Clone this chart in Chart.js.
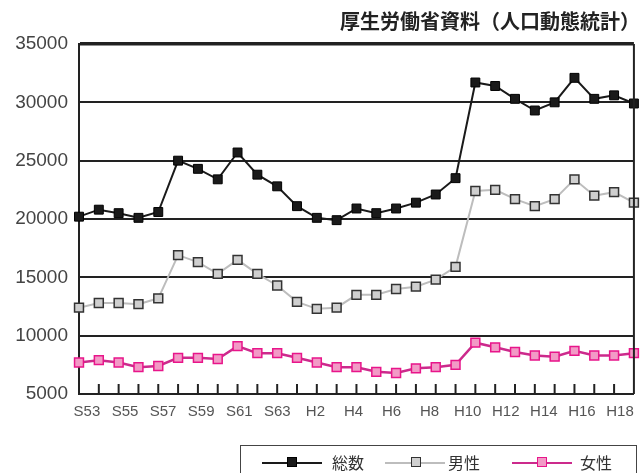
<!DOCTYPE html>
<html lang="ja">
<head>
<meta charset="utf-8">
<title>出生数の推移</title>
<script src="https://cdn.jsdelivr.net/npm/chart.js@4.4.1/dist/chart.umd.min.js"></script>
<style>
  body { margin: 0; background: #fff; }
  #wrap { position: relative; width: 643px; height: 473px; overflow: hidden; }
  #title {
    position: absolute; right: 3px; top: 6px;
    font: bold 20px "Noto Sans CJK JP", sans-serif; color: #222;
    white-space: nowrap;
  }
  #legend {
    position: absolute; left: 240px; top: 445px; width: 397px; height: 40px;
    border: 1.5px solid #444; box-sizing: border-box;
    font: 16px "Noto Sans CJK JP", sans-serif; color: #333;
  }
  .ln { position: absolute; top: 16px; width: 60px; height: 0; }
  .mk { position: absolute; top: 11px; width: 10px; height: 10px; box-sizing: border-box; }
  .tx { position: absolute; top: 4px; }
</style>
</head>
<body>
<div id="wrap">
  <canvas id="lineChart" width="643" height="473"></canvas>
  <div id="title">厚生労働省資料（人口動態統計）</div>
  <div id="legend">
    <div class="ln" style="left:21px;border-top:2px solid #1a1a1a"></div>
    <div class="mk" style="left:46px;background:#1a1a1a;border:1.5px solid #000"></div>
    <div class="tx" style="left:91px">総数</div>
    <div class="ln" style="left:144px;border-top:2px solid #bdbdbd"></div>
    <div class="mk" style="left:170px;background:#cfcfcf;border:1.5px solid #333"></div>
    <div class="tx" style="left:207px">男性</div>
    <div class="ln" style="left:271px;border-top:2.5px solid #cc2a8c"></div>
    <div class="mk" style="left:296px;background:#f29ac6;border:1.5px solid #e8158a"></div>
    <div class="tx" style="left:339px">女性</div>
  </div>
</div>
<script>
const CHART = document.getElementById("lineChart");

// 年次 (S53〜H18)
const YEARS = ["S53", "S54", "S55", "S56", "S57", "S58", "S59", "S60", "S61", "S62", "S63",
  "H1", "H2", "H3", "H4", "H5", "H6", "H7", "H8", "H9", "H10",
  "H11", "H12", "H13", "H14", "H15", "H16", "H17", "H18"];

// 目盛りに出す年 (2年おき)
const TICK_YEARS = ["S53", "S55", "S57", "S59", "S61", "S63", "H2", "H4",
  "H6", "H8", "H10", "H12", "H14", "H16", "H18"];

const TOTAL = [20200, 20800, 20500, 20100, 20600, 25000, 24300, 23400, 25700, 23800, 22800,
  21100, 20100, 19900, 20900, 20500, 20900, 21400, 22100, 23500, 31700,
  31400, 30300, 29300, 30000, 32100, 30300, 30600, 29900];

const MALE = [12400, 12800, 12800, 12700, 13200, 16900, 16300, 15300, 16500, 15300, 14300,
  12900, 12300, 12400, 13500, 13500, 14000, 14200, 14800, 15900, 22400,
  22500, 21700, 21100, 21700, 23400, 22000, 22300, 21400];

const FEMALE = [7700, 7900, 7700, 7300, 7400, 8100, 8100, 8000, 9100, 8500, 8500,
  8100, 7700, 7300, 7300, 6900, 6800, 7200, 7300, 7500, 9400,
  9000, 8600, 8300, 8200, 8700, 8300, 8300, 8500];

const Y_MIN = 5000;
const Y_MAX = 35000;

// 枠線と内向きの目盛り線
const framePlugin = {
  id: "frame",
  afterDatasetsDraw(chart) {
    const {ctx, chartArea, scales} = chart;
    const x = scales.x;
    ctx.save();
    ctx.strokeStyle = "#222";
    ctx.lineWidth = 2;
    ctx.beginPath();
    for (let i = 1; i < YEARS.length - 1; i++) {
      const px = x.getPixelForValue(i);
      ctx.moveTo(px, chartArea.bottom);
      ctx.lineTo(px, chartArea.bottom - 10);
    }
    ctx.moveTo(chartArea.right, chartArea.top);
    ctx.lineTo(chartArea.right, chartArea.bottom);
    ctx.stroke();
    ctx.restore();
  }
};

let lineChart = new Chart(CHART, {
  type: "line",
  data: {
    labels: YEARS,
    datasets: [
      {
        label: "総数",
        data: TOTAL,
        borderColor: "#1a1a1a",
        borderWidth: 2,
        pointStyle: "rect",
        pointRadius: 6.3,
        pointBackgroundColor: "#1a1a1a",
        pointBorderColor: "#000",
        pointBorderWidth: 1,
        lineTension: 0,
        clip: false
      },
      {
        label: "男性",
        data: MALE,
        borderColor: "#bdbdbd",
        borderWidth: 2,
        pointStyle: "rect",
        pointRadius: 6.3,
        pointBackgroundColor: "#cfcfcf",
        pointBorderColor: "#333",
        pointBorderWidth: 1.5,
        lineTension: 0,
        clip: false
      },
      {
        label: "女性",
        data: FEMALE,
        borderColor: "#cc2a8c",
        borderWidth: 2.5,
        pointStyle: "rect",
        pointRadius: 6.3,
        pointBackgroundColor: "#f29ac6",
        pointBorderColor: "#e8158a",
        pointBorderWidth: 1.5,
        lineTension: 0,
        clip: false
      }
    ]
  },
  options: {
    responsive: false,
    animation: false,
    layout: { padding: { top: 44, right: 4, bottom: 0, left: 0 } },
    plugins: {
      legend: { display: false },
      tooltip: { enabled: false }
    },
    scales: {
      x: {
        type: "category",
        offset: false,
        grid: { display: false, drawTicks: false },
        border: { display: true, color: "#222", width: 2 },
        ticks: { display: false },
        afterFit: (s) => { s.height = 0; }
      },
      xl: {
        type: "linear",
        position: "bottom",
        min: -0.416,
        max: 28.73,
        grid: { display: false, drawTicks: false },
        border: { display: false },
        afterBuildTicks: (s) => {
          s.ticks = TICK_YEARS.map((t) => ({ value: YEARS.indexOf(t) }));
        },
        ticks: {
          autoSkip: false,
          maxRotation: 0,
          padding: 9,
          color: "#555",
          font: { family: "'Liberation Sans', Arial, sans-serif", size: 15 },
          callback: (v) => YEARS[v]
        },
        afterFit: (s) => { s.height = 79; }
      },
      y: {
        min: Y_MIN,
        max: Y_MAX,
        ticks: {
          stepSize: 5000,
          padding: 11,
          color: "#444",
          font: { family: "'Liberation Sans', Arial, sans-serif", size: 19 },
          callback: (v) => String(v)
        },
        grid: {
          color: "#222",
          lineWidth: (c) => (c.tick && c.tick.value === Y_MAX ? 3.5 : 2),
          drawTicks: false
        },
        border: { display: true, color: "#222", width: 2 },
        afterFit: (s) => { s.width = 79; }
      }
    }
  },
  plugins: [framePlugin]
});
</script>
</body>
</html>
